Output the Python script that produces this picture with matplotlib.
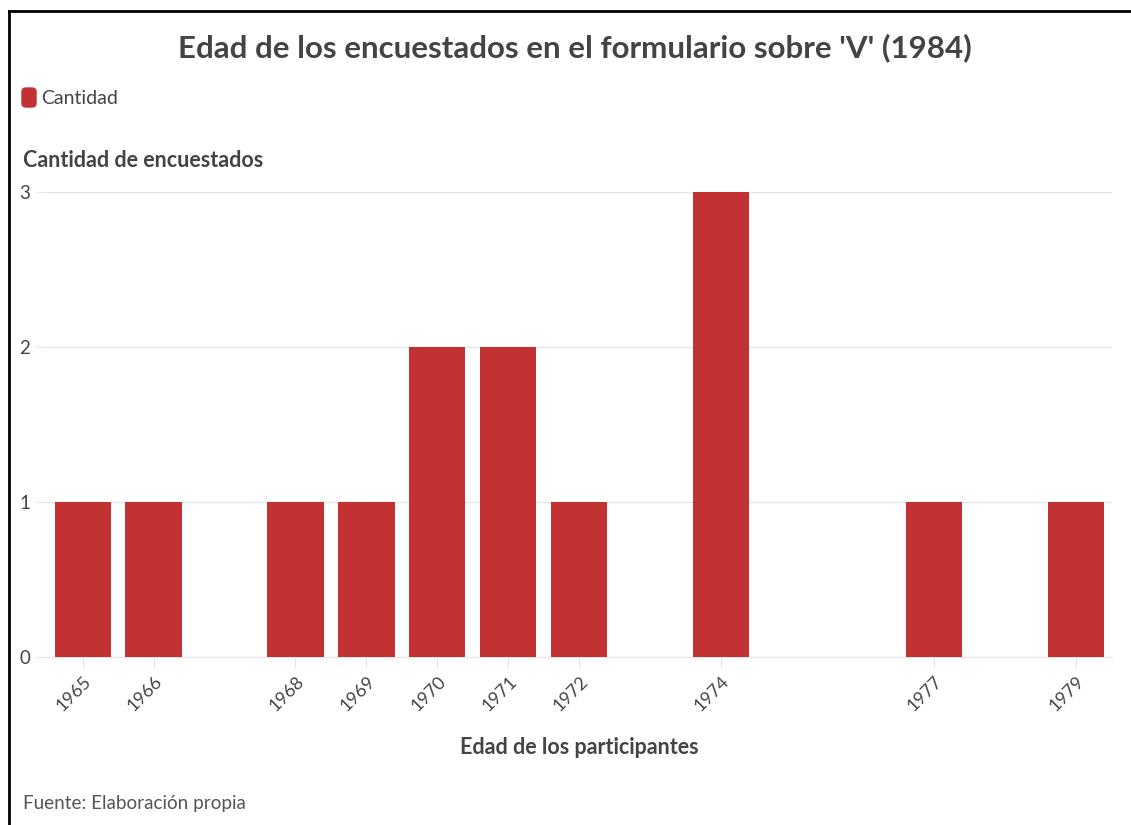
import matplotlib.pyplot as plt
from matplotlib.patches import FancyBboxPatch

# Datos
years = [1965, 1966, 1968, 1969, 1970, 1971, 1972, 1974, 1977, 1979]
counts = [1, 1, 1, 1, 2, 2, 1, 3, 1, 1]

bar_color = '#c23233'
text_color = '#444444'
grid_color = '#e6e6e6'

plt.rcParams['font.family'] = ['Lato', 'DejaVu Sans']

fig = plt.figure(figsize=(11.31, 8.25), dpi=100)
ax = fig.add_axes([0.0416, 0.2036, 0.9414, 0.5634])

ax.bar(years, counts, width=0.79, color=bar_color, zorder=3)

ax.set_xlim(1964.5, 1979.5)
ax.set_ylim(0, 3)
ax.set_yticks([0, 1, 2, 3])
ax.set_xticks(years)
ax.set_xticklabels([str(y) for y in years], rotation=45, ha='right',
                   rotation_mode='anchor', fontsize=13, color=text_color)
ax.tick_params(axis='y', labelsize=13.5, labelcolor=text_color, color=grid_color, length=8, pad=4)
ax.tick_params(axis='x', color=grid_color, length=8, pad=4)

ax.grid(axis='y', color=grid_color, linewidth=1, zorder=0)
for s in ['top', 'right', 'left']:
    ax.spines[s].set_visible(False)
ax.spines['bottom'].set_color(grid_color)

ax.set_xlabel('Edad de los participantes', fontsize=15.5, fontweight='bold',
              color=text_color, labelpad=16)

# Titulo, leyenda y textos
fig.text(0.508, 0.942, "Edad de los encuestados en el formulario sobre 'V' (1984)",
         ha='center', va='center', fontsize=22.5, fontweight='bold', color=text_color)
fig.text(0.020, 0.806, 'Cantidad de encuestados', ha='left', va='center',
         fontsize=15.5, fontweight='bold', color=text_color)
fig.patches.append(FancyBboxPatch((22 / 1131, 1 - 107 / 825), 14 / 1131, 19 / 825,
                                  boxstyle='round,pad=0,rounding_size=0.004',
                                  transform=fig.transFigure, color=bar_color))
fig.text(41 / 1131, 1 - 98 / 825, 'Cantidad', ha='left', va='center',
         fontsize=14, color=text_color)
fig.text(23 / 1131, 1 - 803 / 825, 'Fuente: Elaboración propia', ha='left', va='center',
         fontsize=13.6, color='#555555')

# Marco
fig.add_artist(plt.Line2D([9 / 1131, 1], [1 - 11 / 825, 1 - 11 / 825],
                          transform=fig.transFigure, color='black', linewidth=2))
fig.add_artist(plt.Line2D([9 / 1131, 9 / 1131], [0, 1 - 11 / 825],
                          transform=fig.transFigure, color='black', linewidth=2))

fig.savefig('out.png', dpi=100)
